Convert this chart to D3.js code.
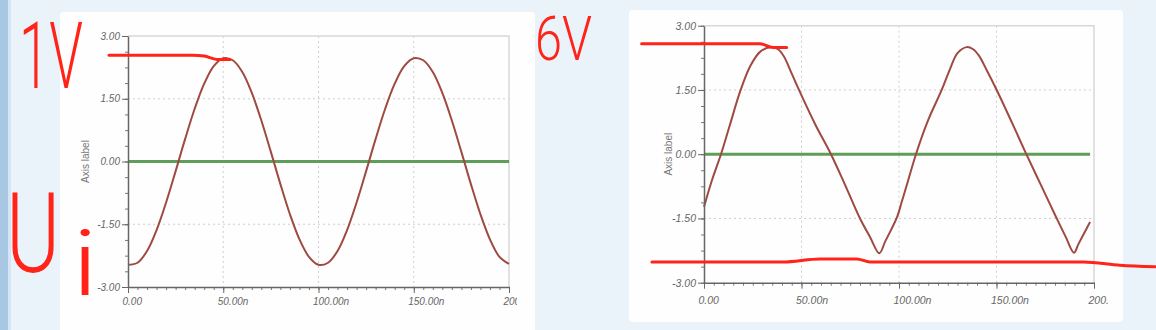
<!DOCTYPE html>
<html>
<head>
<meta charset="utf-8">
<script src="https://cdn.jsdelivr.net/npm/d3@7"></script>
<style>
  body { margin: 0; background: #eaf3fa; }
  svg { display: block; }
</style>
</head>
<body>
<div id="chart"></div>
<script>
// tick values and labels (both charts share them)
var timeTicks = [0, 50, 100, 150, 200];
var timeTickLabels = ["0.00", "50.00n", "100.00n", "150.00n", "200.00n"];
var voltTicks = [3, 1.5, 0, -1.5, -3];
var voltTickLabels = ["3.00", "1.50", "0.00", "-1.50", "-3.00"];

// left chart: sine input (time in ns, volts)
var leftTime = [0, 5, 10, 15, 20, 25, 30, 35, 40, 45, 50, 55, 60, 65, 70, 75, 80, 85, 90, 95, 100,
                105, 110, 115, 120, 125, 130, 135, 140, 145, 150, 155, 160, 165, 170, 175, 180, 185, 190, 195, 200];
var leftVolt = [-2.47, -2.42, -2.14, -1.64, -0.98, -0.23, 0.54, 1.26, 1.86, 2.28, 2.47, 2.42, 2.14, 1.64, 0.98, 0.23,
                -0.54, -1.26, -1.86, -2.28, -2.47, -2.42, -2.14, -1.64, -0.98, -0.23, 0.54, 1.26, 1.86, 2.28, 2.47,
                2.42, 2.14, 1.64, 0.98, 0.23, -0.54, -1.26, -1.86, -2.28, -2.45];
var leftBaseTime = [0, 200];
var leftBaseVolt = [0, 0];

// right chart: distorted output
var rightTime = [0, 4, 8.7, 13, 18.8, 24, 29, 34.7, 38, 41, 45, 48.7, 57, 65.1, 72, 80, 85, 89.9,
                 93, 96, 99, 101.5, 104, 108.7, 115, 121.9, 126, 130, 134.7, 138, 141, 145, 150.1, 158, 165.1,
                 173, 180.9, 185.5, 189.7, 192, 195, 198];
var rightVolt = [-1.23, -0.62, 0, 0.64, 1.5, 2.08, 2.4, 2.5, 2.45, 2.28, 1.88, 1.5, 0.7, 0, -0.68, -1.5, -1.92, -2.31,
                 -2.03, -1.76, -1.47, -1.1, -0.72, 0, 0.8, 1.5, 1.97, 2.36, 2.5, 2.45, 2.3, 1.96, 1.5, 0.73, 0.02,
                 -0.74, -1.5, -1.93, -2.3, -2.1, -1.84, -1.58];
var rightBaseTime = [0, 198];
var rightBaseVolt = [0, 0];

// hand drawn red marks, in chart units
var markLeftTime = [-10, 34, 40, 46.7, 53.5];
var markLeftVolt = [2.54, 2.54, 2.52, 2.44, 2.44];
var markRightTopTime = [-32, 28.7, 35.4, 42.4];
var markRightTopVolt = [2.58, 2.58, 2.49, 2.49];
var markRightBotTime = [-26.7, 40.5, 59.5, 78.3, 85.1, 194.4, 213.3, 231.3];
var markRightBotVolt = [-2.515, -2.515, -2.445, -2.445, -2.515, -2.515, -2.59, -2.63];

var W = 1156, H = 330;
var red = "#ff2318";

var svg = d3.select("#chart").append("svg")
  .attr("width", W)
  .attr("height", H);

// page background
svg.append("rect").attr("width", W).attr("height", H).attr("fill", "#eaf3fa");
svg.append("rect").attr("width", 8).attr("height", H).attr("fill", "#a7c7e2");
svg.append("rect").attr("x", 8).attr("width", 3).attr("height", H).attr("fill", "#d4e5f3");

function drawChart(c) {
  // white panel
  svg.append("rect")
    .attr("x", c.panel[0]).attr("y", c.panel[1])
    .attr("width", c.panel[2]).attr("height", c.panel[3])
    .attr("rx", 4)
    .attr("fill", "#fefefe");

  svg.append("clipPath").attr("id", c.id + "-clip")
    .append("rect")
    .attr("x", c.panel[0]).attr("y", 0)
    .attr("width", c.clipRight - c.panel[0]).attr("height", H);

  var g = svg.append("g").attr("clip-path", "url(#" + c.id + "-clip)");

  var x = d3.scaleLinear().domain([0, 200]).range([c.x0, c.x1]);
  var y = d3.scaleLinear().domain([-3, 3]).range([c.yBot, c.yTop]);
  c.xScale = x;
  c.yScale = y;

  // dotted grid
  g.selectAll(".vgrid")
    .data(timeTicks.filter((d) => d > 0 && d < 200))
    .enter()
    .append("line")
    .attr("x1", (d) => x(d)).attr("x2", (d) => x(d))
    .attr("y1", y(3)).attr("y2", y(-3))
    .attr("stroke", "#cfcfcf")
    .attr("stroke-dasharray", "2,3");

  g.selectAll(".hgrid")
    .data(voltTicks.filter((d) => d != 0 && Math.abs(d) < 3))
    .enter()
    .append("line")
    .attr("x1", x(0)).attr("x2", x(200))
    .attr("y1", (d) => y(d)).attr("y2", (d) => y(d))
    .attr("stroke", "#cfcfcf")
    .attr("stroke-dasharray", "2,3");

  // top and right border
  g.append("path")
    .attr("d", "M" + x(0) + "," + y(3) + "H" + x(200) + "V" + y(-3))
    .attr("fill", "none")
    .attr("stroke", "#d8d8d8")
    .attr("stroke-width", 1.5);

  var line = d3.line()
    .x((d) => x(d[0]))
    .y((d) => y(d[1]));

  // green zero line
  g.append("path")
    .datum(d3.zip(c.baseTime, c.baseVolt))
    .attr("d", line)
    .attr("fill", "none")
    .attr("stroke", "#5f9e58")
    .attr("stroke-width", 3);

  // waveform
  g.append("path")
    .datum(d3.zip(c.time, c.volt))
    .attr("d", line.curve(d3.curveCatmullRom.alpha(0.5)))
    .attr("fill", "none")
    .attr("stroke", "#9f4a40")
    .attr("stroke-width", 2);

  // minor ticks
  g.append("g")
    .attr("transform", "translate(" + x(0) + ",0)")
    .call(d3.axisLeft(y).tickValues(d3.range(-3, 3.01, 0.375)).tickSize(3).tickFormat(""))
    .call((a) => a.select(".domain").remove())
    .selectAll("line").attr("stroke", "#777");

  g.append("g")
    .attr("transform", "translate(0," + y(-3) + ")")
    .call(d3.axisBottom(x).tickValues(d3.range(0, 200.1, 5)).tickSize(3).tickFormat(""))
    .call((a) => a.select(".domain").remove())
    .selectAll("line").attr("stroke", "#777");

  // y axis
  var yAxis = d3.axisLeft(y)
    .tickValues(voltTicks)
    .tickFormat((d, i) => voltTickLabels[i])
    .tickSize(6)
    .tickSizeOuter(0)
    .tickPadding(2);

  var ya = g.append("g")
    .attr("transform", "translate(" + x(0) + ",0)")
    .call(yAxis);
  ya.select(".domain").attr("stroke", "#666").attr("stroke-width", 1.5);
  ya.selectAll("line").attr("stroke", "#666");
  ya.selectAll("text")
    .attr("fill", "#666")
    .style("font", "italic " + c.fontSize + "px 'Liberation Sans', Arial, sans-serif");

  // x axis
  var xAxis = d3.axisBottom(x)
    .tickValues(timeTicks)
    .tickFormat((d, i) => timeTickLabels[i])
    .tickSize(6)
    .tickSizeOuter(0)
    .tickPadding(2);

  var xa = g.append("g")
    .attr("transform", "translate(0," + y(-3) + ")")
    .call(xAxis);
  xa.select(".domain").attr("stroke", "#666").attr("stroke-width", 1.5);
  xa.selectAll("line").attr("stroke", "#666");
  xa.selectAll("text")
    .attr("text-anchor", "start")
    .attr("dx", -6)
    .attr("dy", 0)
    .attr("y", c.xLabelDy)
    .attr("fill", "#666")
    .style("font", "italic " + c.fontSize + "px 'Liberation Sans', Arial, sans-serif");

  // axis title
  g.append("text")
    .attr("text-anchor", "middle")
    .attr("transform", "translate(" + c.axisLabelX + "," + y(0) + ") rotate(-90)")
    .attr("dy", "0.35em")
    .attr("fill", "#777")
    .style("font", "10px 'Liberation Sans', Arial, sans-serif")
    .text("Axis label");
}

var leftChart = {
  id: "left", panel: [60, 12, 475, 330], clipRight: 517,
  x0: 128, x1: 509, yTop: 36, yBot: 287,
  fontSize: 10, xLabelDy: 18, axisLabelX: 85,
  time: leftTime, volt: leftVolt, baseTime: leftBaseTime, baseVolt: leftBaseVolt
};
var rightChart = {
  id: "right", panel: [629, 10, 494, 312], clipRight: 1108,
  x0: 704, x1: 1094, yTop: 25.7, yBot: 282.7,
  fontSize: 10.5, xLabelDy: 21, axisLabelX: 668,
  time: rightTime, volt: rightVolt, baseTime: rightBaseTime, baseVolt: rightBaseVolt
};

drawChart(leftChart);
drawChart(rightChart);

// red pen marks
function mark(chart, t, v) {
  svg.append("path")
    .datum(d3.zip(t, v))
    .attr("d", d3.line()
      .x((d) => chart.xScale(d[0]))
      .y((d) => chart.yScale(d[1]))
      .curve(d3.curveMonotoneX))
    .attr("fill", "none")
    .attr("stroke", red)
    .attr("stroke-width", 3)
    .attr("stroke-linecap", "round");
}
mark(leftChart, markLeftTime, markLeftVolt);
mark(rightChart, markRightTopTime, markRightTopVolt);
mark(rightChart, markRightBotTime, markRightBotVolt);

// handwritten notes: squeeze each to the width it has in the picture
function scribble(txt, x, yb, size, wanted) {
  var t = svg.append("text")
    .attr("x", 0).attr("y", 0)
    .attr("fill", red)
    .style("font", "300 " + size + "px Roboto, 'Open Sans', sans-serif")
    .text(txt);
  var sx = wanted / t.node().getComputedTextLength();
  t.attr("transform", "translate(" + x + "," + yb + ") scale(" + sx + ",1)");
}
scribble("1V", 19, 88, 92, 64);
scribble("U", 6, 272, 112, 54);
scribble("i", 72, 295, 90, 26);
scribble("6V", 535, 60, 62, 57);
</script>
</body>
</html>
